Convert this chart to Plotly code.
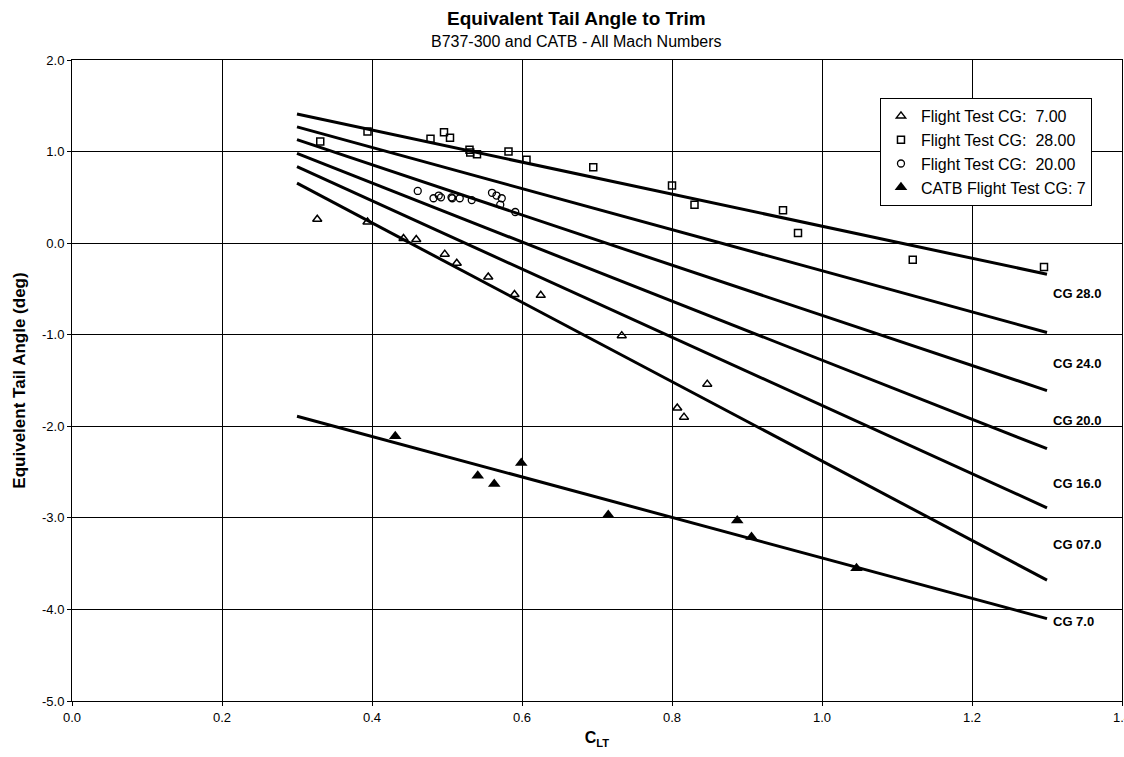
import plotly.graph_objects as go

# Flight test points, CG 7.00 (open triangles)
cg7_clt = [0.327, 0.394, 0.442, 0.459, 0.497, 0.513, 0.555, 0.590, 0.625, 0.733, 0.807, 0.816, 0.847]
cg7_angle = [0.26, 0.23, 0.05, 0.04, -0.12, -0.22, -0.37, -0.56, -0.57, -1.01, -1.80, -1.90, -1.54]

# Flight test points, CG 28.00 (open squares)
cg28_clt = [0.331, 0.394, 0.478, 0.496, 0.504, 0.530, 0.531, 0.540, 0.582, 0.606, 0.695,
            0.800, 0.830, 0.948, 0.968, 1.121, 1.296]
cg28_angle = [1.11, 1.22, 1.14, 1.21, 1.15, 1.02, 0.99, 0.97, 1.00, 0.91, 0.83,
              0.63, 0.42, 0.36, 0.11, -0.18, -0.26]

# Flight test points, CG 20.00 (open circles)
cg20_clt = [0.461, 0.482, 0.489, 0.492, 0.506, 0.507, 0.517, 0.533, 0.560, 0.566, 0.573, 0.571, 0.591]
cg20_angle = [0.57, 0.49, 0.52, 0.50, 0.50, 0.49, 0.49, 0.47, 0.55, 0.52, 0.49, 0.42, 0.34]

# CATB flight test points, CG 7 (filled triangles)
catb_clt = [0.431, 0.541, 0.563, 0.599, 0.715, 0.887, 0.906, 1.046]
catb_angle = [-2.11, -2.54, -2.63, -2.40, -2.97, -3.03, -3.21, -3.55]

# Trim lines, evaluated at the ends of the C_LT range
fit_clt = [0.3, 1.3]
fit_start = [1.41, 1.27, 1.13, 0.98, 0.835, 0.655, -1.89]
fit_end = [-0.34, -0.975, -1.61, -2.245, -2.89, -3.68, -4.10]

# Line labels
label_text = ["CG 28.0", "CG 24.0", "CG 20.0", "CG 16.0", "CG 07.0", "CG 7.0"]
label_angle = [-0.55, -1.31, -1.94, -2.62, -3.29, -4.13]
label_clt = 1.305

x_ticks = [0.0, 0.2, 0.4, 0.6, 0.8, 1.0, 1.2, 1.4]
x_tick_text = ["0.0", "0.2", "0.4", "0.6", "0.8", "1.0", "1.2", "1.4"]
y_ticks = [2, 1, 0, -1, -2, -3, -4, -5]
y_tick_text = ["2.0", "1.0", "0.0", "-1.0", "-2.0", "-3.0", "-4.0", "-5.0"]

FONT = "Liberation Sans, Arial, sans-serif"

fig = go.Figure()

for s, e in zip(fit_start, fit_end):
    fig.add_trace(go.Scatter(x=fit_clt, y=[s, e], mode="lines",
                             line=dict(color="black", width=3),
                             showlegend=False, hoverinfo="skip"))

fig.add_trace(go.Scatter(x=cg7_clt, y=cg7_angle, mode="markers",
                         name="Flight Test CG:  7.00",
                         marker=dict(symbol="triangle-up-open", size=8, color="black",
                                     line=dict(width=1.5, color="black"))))
fig.add_trace(go.Scatter(x=cg28_clt, y=cg28_angle, mode="markers",
                         name="Flight Test CG:  28.00",
                         marker=dict(symbol="square-open", size=7, color="black",
                                     line=dict(width=1.5, color="black"))))
fig.add_trace(go.Scatter(x=cg20_clt, y=cg20_angle, mode="markers",
                         name="Flight Test CG:  20.00",
                         marker=dict(symbol="circle-open", size=7, color="black",
                                     line=dict(width=1.3, color="black"))))
fig.add_trace(go.Scatter(x=catb_clt, y=catb_angle, mode="markers",
                         name="CATB Flight Test CG: 7",
                         marker=dict(symbol="triangle-up", size=11, color="black")))

for txt, yv in zip(label_text, label_angle):
    fig.add_annotation(x=label_clt, y=yv, text="<b>" + txt + "</b>", showarrow=False,
                       xanchor="left", yanchor="middle",
                       font=dict(family=FONT, size=13, color="black"))

fig.add_annotation(xref="paper", yref="paper", x=0.48, y=1.0655,
                   text="<b>Equivalent Tail Angle to Trim</b>", showarrow=False,
                   xanchor="center", yanchor="middle",
                   font=dict(family=FONT, size=19, color="black"))
fig.add_annotation(xref="paper", yref="paper", x=0.48, y=1.0296,
                   text="B737-300 and CATB - All Mach Numbers", showarrow=False,
                   xanchor="center", yanchor="middle",
                   font=dict(family=FONT, size=16, color="black"))

axis_common = dict(showgrid=True, gridcolor="black", gridwidth=1,
                   showline=True, linecolor="black", linewidth=1, mirror=True,
                   ticks="outside", ticklen=4, tickcolor="black",
                   zeroline=False, automargin=False,
                   tickfont=dict(family=FONT, size=13, color="black"))

fig.update_xaxes(range=[0, 1.4], tickvals=x_ticks, ticktext=x_tick_text,
                 ticklabeloverflow="allow",
                 title=dict(text="<b>C<sub>LT</sub></b>", standoff=8,
                            font=dict(family=FONT, size=16, color="black")),
                 **axis_common)
fig.update_yaxes(range=[-5, 2], tickvals=y_ticks, ticktext=y_tick_text,
                 title=dict(text="<b>Equivelent Tail Angle (deg)</b>", standoff=12,
                            font=dict(family=FONT, size=17, color="black")),
                 **axis_common)

fig.update_layout(
    width=1124, height=757,
    margin=dict(l=72, r=2, t=60, b=56),
    paper_bgcolor="white", plot_bgcolor="white",
    font=dict(family=FONT, color="black"),
    legend=dict(x=0.7695, y=0.9407, xanchor="left", yanchor="top",
                bgcolor="white", bordercolor="black", borderwidth=1,
                font=dict(family=FONT, size=16, color="black"),
                itemwidth=30, tracegroupgap=0),
)

fig.write_html("out.html")
